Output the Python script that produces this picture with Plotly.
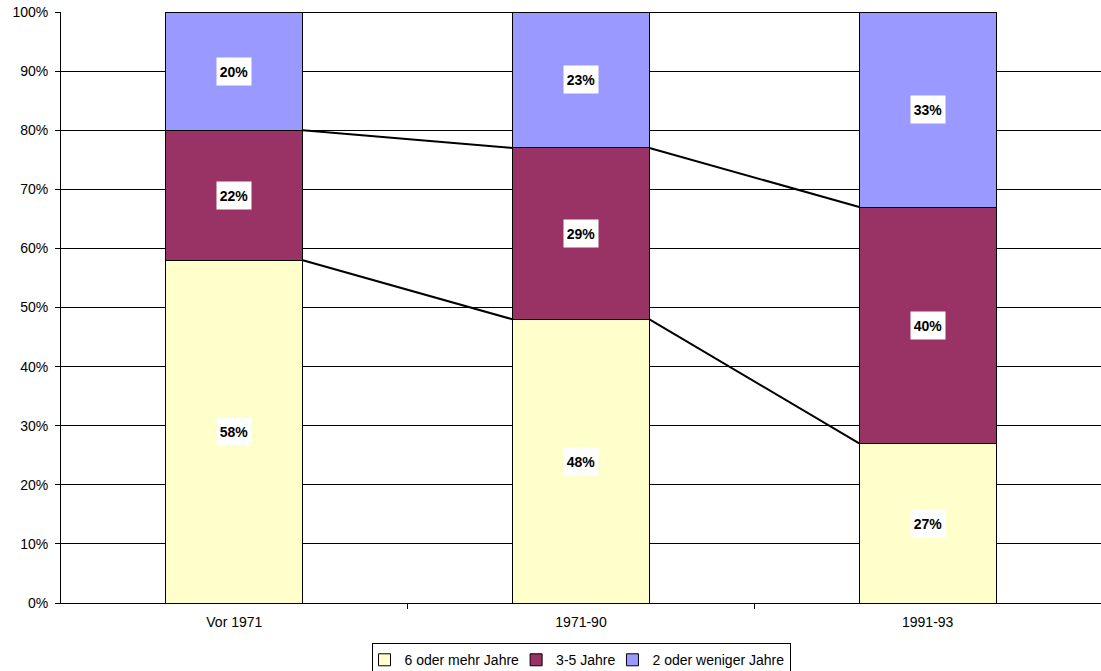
import plotly.graph_objects as go

# Period categories and share of each duration group (in percent)
categories = ["Vor 1971", "1971-90", "1991-93"]
series_names = ["6 oder mehr Jahre", "3-5 Jahre", "2 oder weniger Jahre"]
share_6plus = [58, 48, 27]
share_3to5 = [22, 29, 40]
share_2less = [20, 23, 33]
y_ticks = [0, 10, 20, 30, 40, 50, 60, 70, 80, 90, 100]

colors = ["#FFFFCC", "#993366", "#9999FF"]
bar_width = 0.395
font_family = "Arial, Liberation Sans, sans-serif"

x_pos = list(range(len(categories)))
series_values = [share_6plus, share_3to5, share_2less]

fig = go.Figure()

for name, vals, col in zip(series_names, series_values, colors):
    fig.add_trace(go.Bar(
        x=x_pos, y=vals, name=name, width=bar_width,
        marker=dict(color=col, line=dict(color="#000000", width=1)),
    ))

# Series lines joining the tops of each stacked segment between neighbouring bars
cum = []
running = [0] * len(categories)
for vals in series_values:
    running = [r + v for r, v in zip(running, vals)]
    cum.append(list(running))

for level in cum:
    for i in range(len(categories) - 1):
        fig.add_trace(go.Scatter(
            x=[x_pos[i] + bar_width / 2, x_pos[i + 1] - bar_width / 2],
            y=[level[i], level[i + 1]],
            mode="lines", line=dict(color="#000000", width=2),
            showlegend=False, hoverinfo="skip", cliponaxis=False,
        ))

# Value labels centred in each segment, on a white box
base = [0] * len(categories)
for vals in series_values:
    for i, v in enumerate(vals):
        fig.add_annotation(
            x=x_pos[i], y=base[i] + v / 2, text=f"<b>{v}%</b>",
            showarrow=False, bgcolor="#FFFFFF", borderpad=2,
            width=30, height=23,
            font=dict(family=font_family, size=14, color="#000000"),
        )
    base = [b + v for b, v in zip(base, vals)]

fig.update_layout(
    barmode="stack",
    width=1101, height=671,
    margin=dict(l=61, r=0, t=12, b=68, autoexpand=False),
    paper_bgcolor="#FFFFFF", plot_bgcolor="#FFFFFF",
    font=dict(family=font_family, size=14, color="#000000"),
    showlegend=True,
    legend=dict(
        orientation="h", x=0.5, xanchor="center", y=-0.068, yanchor="top",
        bordercolor="#000000", borderwidth=1, bgcolor="#FFFFFF",
        font=dict(family=font_family, size=14, color="#000000"),
        itemwidth=30, tracegroupgap=0, traceorder="normal",
        indentation=-8,
    ),
    xaxis=dict(
        range=[-0.5, len(categories) - 0.5],
        tickmode="array", tickvals=x_pos, ticktext=categories,
        ticks="", showgrid=False, zeroline=False,
        showline=True, linecolor="#000000", linewidth=1,
        ticklabelstandoff=6,
        minor=dict(tickmode="array", tickvals=[i + 0.5 for i in x_pos[:-1]],
                   ticks="outside", ticklen=5, tickcolor="#000000", showgrid=False),
        tickfont=dict(size=14),
    ),
    yaxis=dict(
        range=[0, 100], tickmode="array", tickvals=y_ticks,
        ticktext=[f"{t}%" for t in y_ticks],
        ticks="outside", ticklen=5, tickcolor="#000000",
        showgrid=True, gridcolor="#000000", gridwidth=1,
        zeroline=False, showline=True, linecolor="#000000", linewidth=1,
        ticklabelstandoff=4,
        tickfont=dict(size=14),
    ),
)

fig.write_html("out.html")
